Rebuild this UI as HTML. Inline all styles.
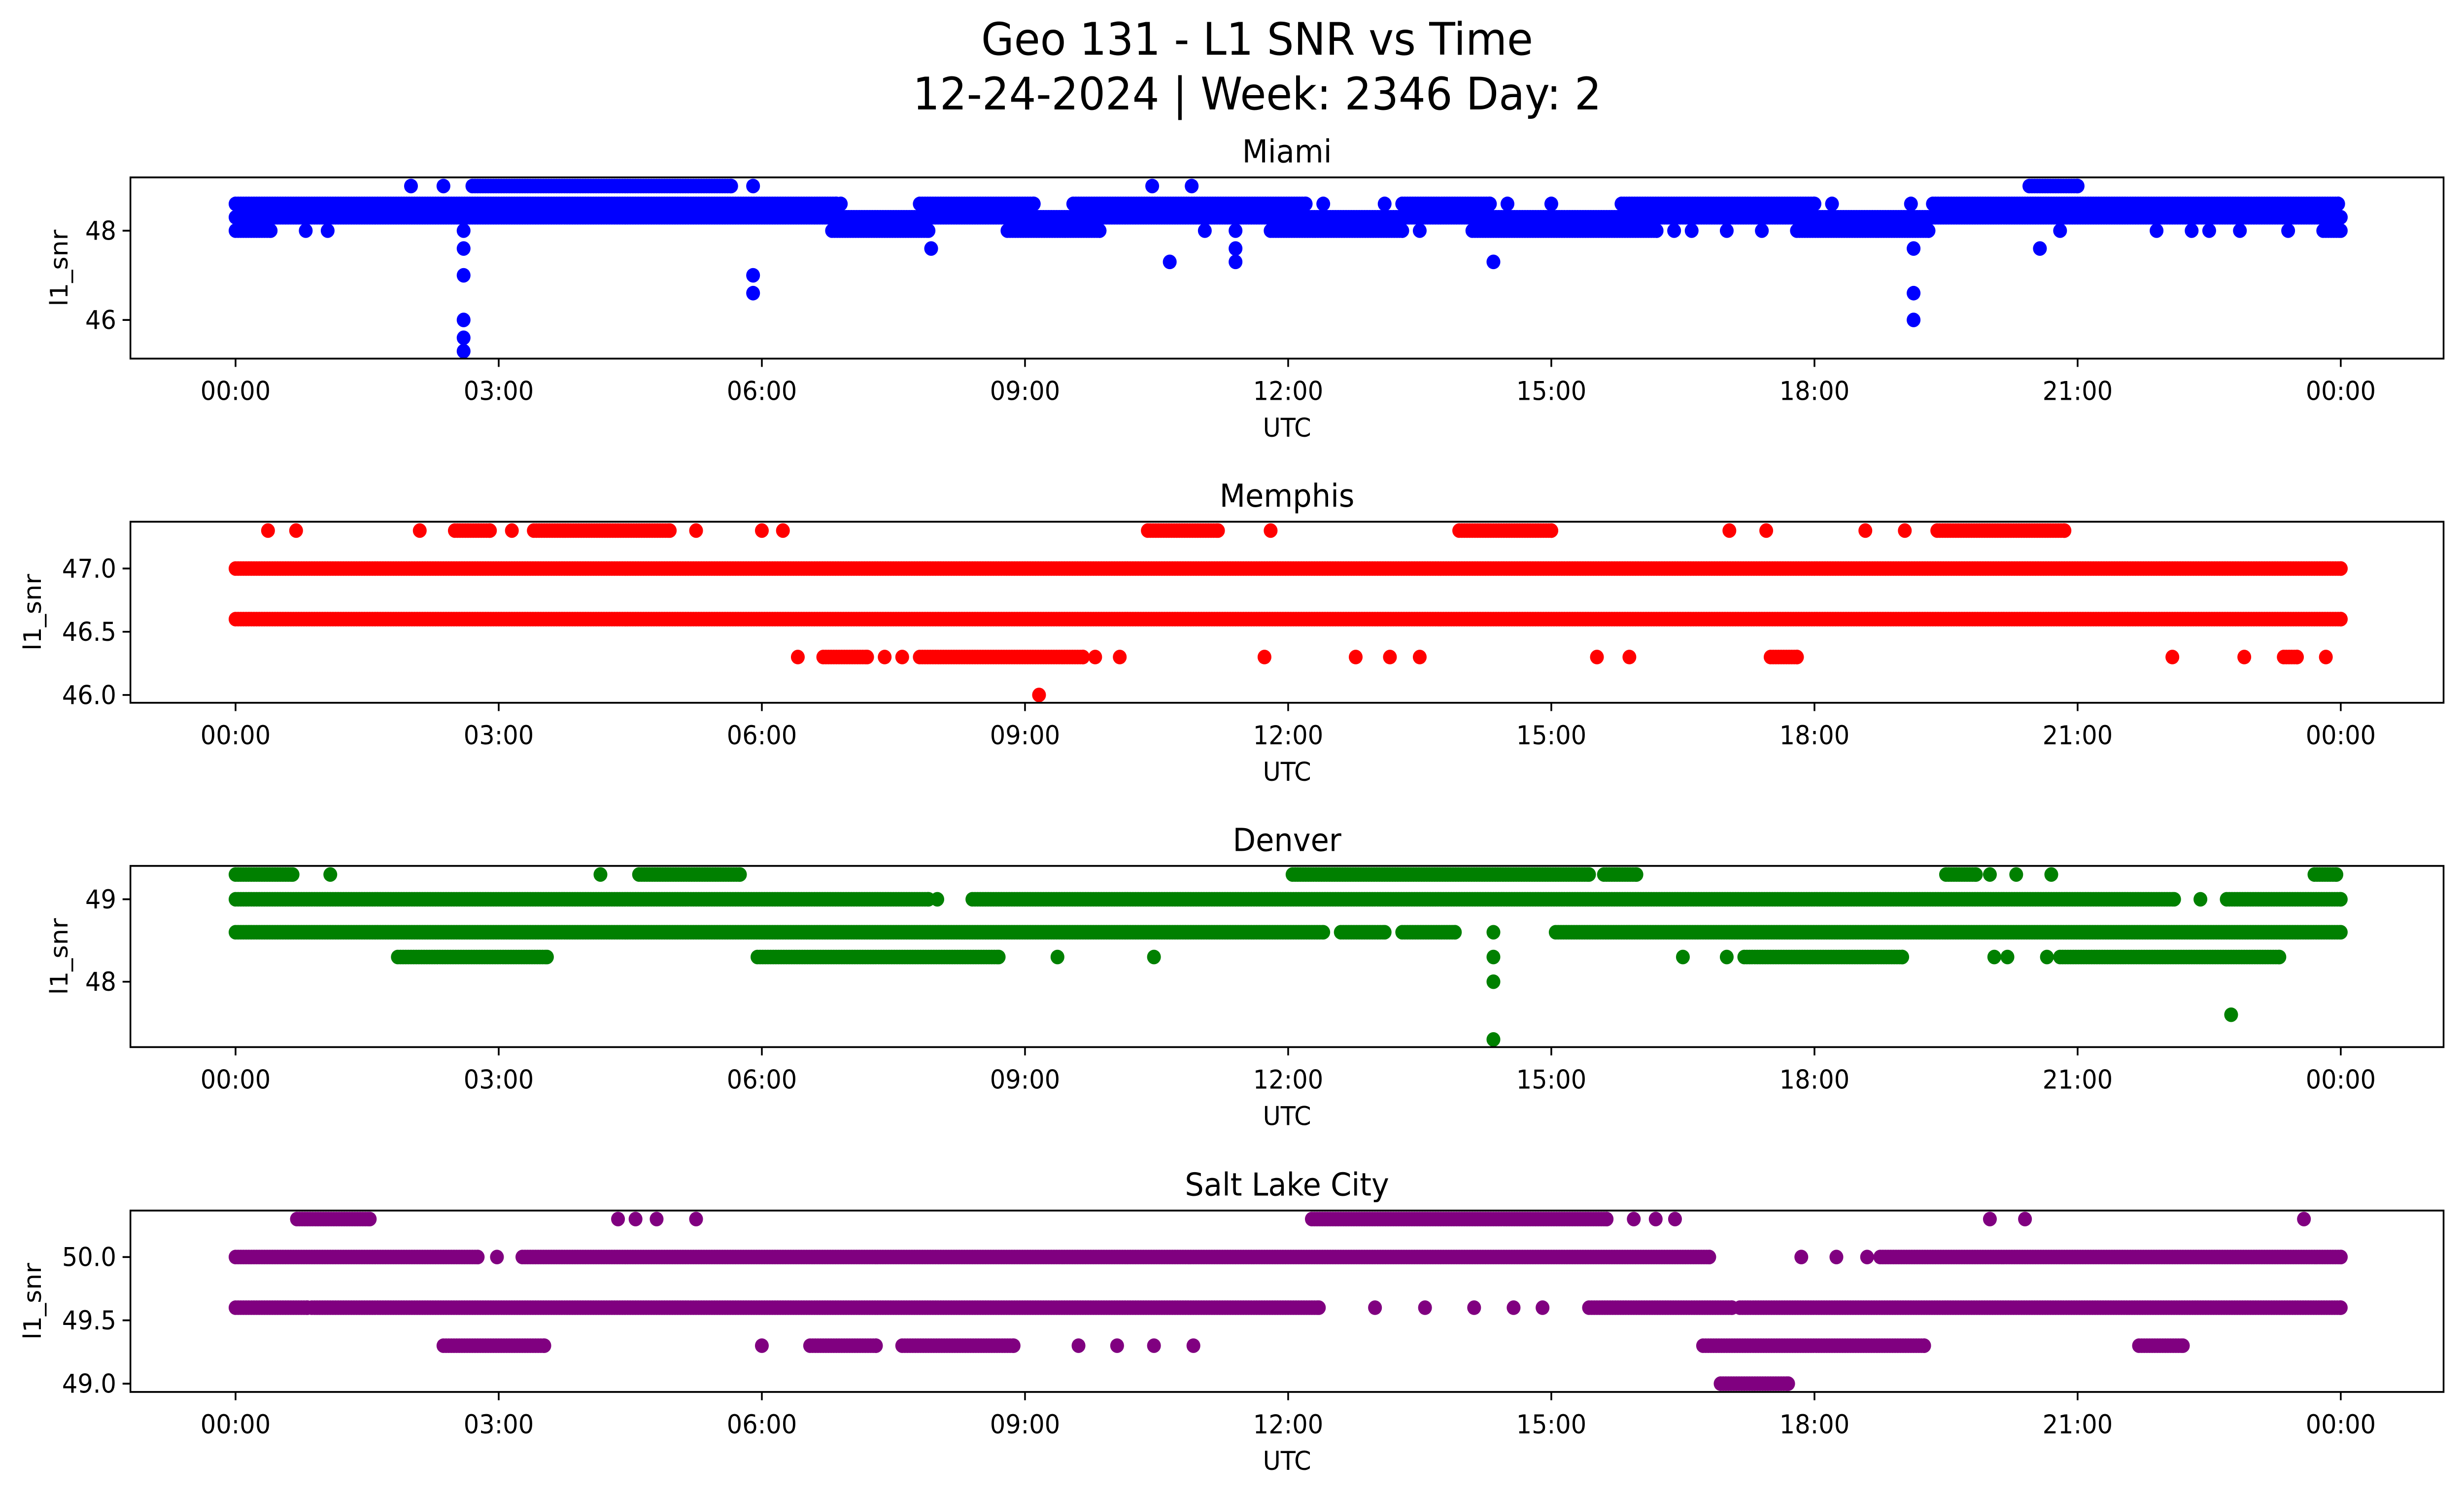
<!DOCTYPE html>
<html><head><meta charset="utf-8">
<style>
html,body{margin:0;padding:0;background:#fff;width:100%;height:100%;overflow:hidden;}
svg{display:block;font-family:"DejaVu Sans","Liberation Sans",sans-serif;position:absolute;left:0;top:0;width:100vw;height:100vh;}
</style></head>
<body>
<svg id="root" viewBox="0 0 1568 900.9" preserveAspectRatio="none" xmlns="http://www.w3.org/2000/svg">
<g id="chart">
<text x="800" y="33" font-size="27" text-anchor="middle">Geo 131 - L1 SNR vs Time</text>
<text x="800" y="66" font-size="27" text-anchor="middle">12-24-2024 | Week: 2346 Day: 2</text>
</g>
</svg>
<script>
// ---- data: runs are [snr, startHour, endHour]; singles are [snr, hour] ----
const timeTickLabels = ["00:00","03:00","06:00","09:00","12:00","15:00","18:00","21:00","00:00"];
const timeTickHours = [0,3,6,9,12,15,18,21,24];

const miamiRuns = [[49.0,2.7,5.65],[49.0,20.45,21.0],
 [48.6,0,6.85],[48.6,7.8,9.1],[48.6,9.55,12.2],[48.6,13.3,14.3],[48.6,15.8,18.0],[48.6,19.35,23.97],
 [48.3,0,24],
 [48.0,0,0.4],[48.0,6.8,7.9],[48.0,8.8,9.85],[48.0,11.8,13.3],[48.0,14.1,16.2],[48.0,17.8,19.3],[48.0,23.8,24]];
const miamiSingles = [[49.0,2.0],[49.0,2.37],[49.0,5.9],[49.0,10.45],[49.0,10.9],
 [48.6,6.9],[48.6,12.4],[48.6,13.1],[48.6,14.5],[48.6,15.0],[48.6,18.2],[48.6,19.1],
 [48.0,0.8],[48.0,1.05],[48.0,2.6],[48.0,11.05],[48.0,11.4],[48.0,13.5],[48.0,16.4],[48.0,16.6],[48.0,17.0],[48.0,17.4],
 [48.0,20.8],[48.0,21.9],[48.0,22.3],[48.0,22.5],[48.0,22.85],[48.0,23.4],
 [47.6,2.6],[47.6,7.93],[47.6,11.4],[47.6,19.13],[47.6,20.57],
 [47.3,10.65],[47.3,11.4],[47.3,14.34],
 [47.0,2.6],[47.0,5.9],[46.6,5.9],[46.6,19.13],
 [46.0,2.6],[46.0,19.13],[45.6,2.6],[45.3,2.6]];

const memphisRuns = [[47.3,2.5,2.9],[47.3,3.4,4.95],[47.3,10.4,11.2],[47.3,13.95,15.0],[47.3,19.4,20.85],
 [47.0,0,24],[46.6,0,24],
 [46.3,6.7,7.2],[46.3,7.8,9.66],[46.3,17.5,17.8],[46.3,23.35,23.5]];
const memphisSingles = [[47.3,0.37],[47.3,0.69],[47.3,2.1],[47.3,3.15],[47.3,5.25],[47.3,6.0],[47.3,6.24],
 [47.3,11.8],[47.3,17.03],[47.3,17.45],[47.3,18.58],[47.3,19.03],
 [46.3,6.41],[46.3,7.4],[46.3,7.6],[46.3,9.8],[46.3,10.08],[46.3,11.73],[46.3,12.77],[46.3,13.16],[46.3,13.5],
 [46.3,15.52],[46.3,15.89],[46.3,22.08],[46.3,22.9],[46.3,23.83],[46.0,9.16]];

const denverRuns = [[49.3,0,0.65],[49.3,4.6,5.75],[49.3,12.05,15.43],[49.3,15.6,15.97],[49.3,19.5,19.84],[49.3,23.7,23.95],
 [49.0,0,7.9],[49.0,8.4,22.1],[49.0,22.7,24],
 [48.6,0,12.4],[48.6,12.6,13.1],[48.6,13.3,13.9],[48.6,15.05,24],
 [48.3,1.85,3.55],[48.3,5.95,8.7],[48.3,17.2,19.0],[48.3,20.8,23.3]];
const denverSingles = [[49.3,1.08],[49.3,4.16],[49.3,20.0],[49.3,20.3],[49.3,20.7],[49.0,8.0],[49.0,22.4],
 [48.6,14.34],[48.3,9.37],[48.3,10.47],[48.3,14.34],[48.3,16.5],[48.3,17.0],[48.3,20.05],[48.3,20.2],[48.3,20.65],
 [48.0,14.34],[47.6,22.75],[47.3,14.34]];

const slcRuns = [[50.3,0.7,1.53],[50.3,12.27,15.63],
 [50.0,0,2.76],[50.0,3.27,16.8],[50.0,18.75,24],
 [49.6,0,0.82],[49.6,0.87,12.35],[49.6,15.43,17.06],[49.6,17.15,24],
 [49.3,2.37,3.52],[49.3,6.55,7.3],[49.3,7.6,8.87],[49.3,16.73,19.25],[49.3,21.7,22.2],
 [49.0,16.93,17.7]];
const slcSingles = [[50.3,4.36],[50.3,4.56],[50.3,4.8],[50.3,5.25],[50.3,15.94],[50.3,16.19],[50.3,16.41],[50.3,20.0],[50.3,20.4],[50.3,23.58],
 [50.0,2.98],[50.0,17.85],[50.0,18.25],[50.0,18.6],
 [49.6,12.99],[49.6,13.56],[49.6,14.12],[49.6,14.57],[49.6,14.9],
 [49.3,6.0],[49.3,9.61],[49.3,10.05],[49.3,10.47],[49.3,10.92]];

const miamiYTicks = [46,48], memphisYTicks=[46.0,46.5,47.0], denverYTicks=[48,49], slcYTicks=[49.0,49.5,50.0];

// ---- layout ----
const svg = document.getElementById('chart');
const root = document.getElementById('root');
const NS = "http://www.w3.org/2000/svg";
const X0 = 149.9, XPH = 55.82, LEFT = 83, RIGHT = 1555;
function xScale(h){ return X0 + h*XPH; }
function mk(tag, attrs){ const e=document.createElementNS(NS,tag); for(const k in attrs) e.setAttribute(k,attrs[k]); svg.appendChild(e); return e; }

const panels = [
 {name:"miami", title:"Miami", color:"#0000ff", top:106.9, bottom:216.1, refV:49, refY:112.1, ppu:26.9, runs:miamiRuns, singles:miamiSingles, yt:miamiYTicks, fmt:0},
 {name:"memphis", title:"Memphis", color:"#ff0000", top:314.4, bottom:423.5, refV:47, refY:342.6, ppu:76.2, runs:memphisRuns, singles:memphisSingles, yt:memphisYTicks, fmt:1},
 {name:"denver", title:"Denver", color:"#008000", top:521.8, bottom:631.0, refV:49, refY:541.9, ppu:49.7, runs:denverRuns, singles:denverSingles, yt:denverYTicks, fmt:0},
 {name:"salt-lake-city", title:"Salt Lake City", color:"#800080", top:729.5, bottom:838.8, refV:50, refY:757.5, ppu:76.3, runs:slcRuns, singles:slcSingles, yt:slcYTicks, fmt:1}
];

const defs = document.createElementNS(NS,'defs'); root.insertBefore(defs, root.firstChild);
panels.forEach(p=>{
  const yScale = v => p.refY + (p.refV - v)*p.ppu;
  const clipId = 'clip-'+p.name;
  const cp = document.createElementNS(NS,'clipPath'); cp.setAttribute('id',clipId);
  const cr = document.createElementNS(NS,'rect');
  cr.setAttribute('x',LEFT); cr.setAttribute('y',p.top); cr.setAttribute('width',RIGHT-LEFT); cr.setAttribute('height',p.bottom-p.top);
  cp.appendChild(cr); defs.appendChild(cp);
  const g = mk('g',{'clip-path':'url(#'+clipId+')', fill:p.color});
  
  
  const dot = (v,h)=>{
    const c=document.createElementNS(NS,'circle');
    c.setAttribute('cx',xScale(h).toFixed(2)); c.setAttribute('cy',yScale(v).toFixed(2)); c.setAttribute('r',4.4);
    g.appendChild(c);
  };
  p.runs.forEach(r=>{ for(let h=r[1]; h<=r[2]+1e-9; h+=0.03) dot(r[0],h); dot(r[0],r[2]); });
  p.singles.forEach(s=>dot(s[0],s[1]));
  const frame = mk('rect',{x:LEFT,y:p.top,width:RIGHT-LEFT,height:p.bottom-p.top,fill:'none',stroke:'#000','stroke-width':1.1});
  
  
  const t = mk('text',{x:(LEFT+RIGHT)/2,y:p.top-9,'font-size':19,'text-anchor':'middle'});
  t.textContent = p.title;
  
  
  timeTickHours.forEach((h,i)=>{
    const x=xScale(h);
    mk('line',{x1:x,x2:x,y1:p.bottom,y2:p.bottom+5,stroke:'#000','stroke-width':1.1});
    const tl = mk('text',{x:x,y:p.bottom+25,'font-size':15.5,'text-anchor':'middle'});
    tl.textContent = timeTickLabels[i];
    
    
  });
  const xl = mk('text',{x:(LEFT+RIGHT)/2,y:p.bottom+47,'font-size':15.5,'text-anchor':'middle'});
  xl.textContent='UTC';
  
  
  p.yt.forEach(v=>{
    const y=yScale(v);
    mk('line',{x1:LEFT-5,x2:LEFT,y1:y,y2:y,stroke:'#000','stroke-width':1.1});
    const yl = mk('text',{x:LEFT-9,y:y+5.5,'font-size':15.5,'text-anchor':'end'});
    yl.textContent = v.toFixed(p.fmt);
    
    
  });
  const yt = (p.fmt===1)?26:43;
  const cy=(p.top+p.bottom)/2;
  const ya = mk('text',{x:yt,y:cy,'font-size':15.5,'text-anchor':'middle',transform:'rotate(-90 '+yt+' '+cy+')'});
  ya.textContent='l1_snr';
  
  
});
</script>
</body></html>
